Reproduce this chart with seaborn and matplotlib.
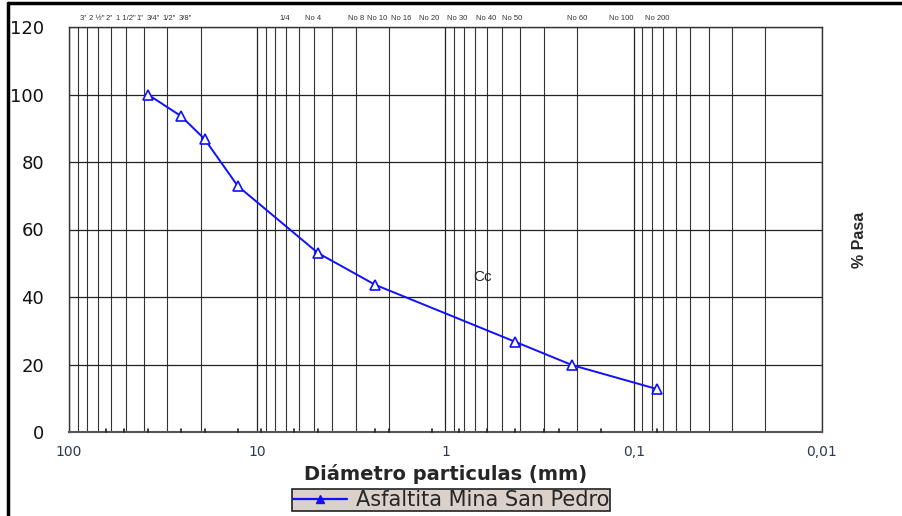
import matplotlib
matplotlib.use("Agg")
import matplotlib.pyplot as plt
import matplotlib.ticker as mticker
from matplotlib.lines import Line2D
import seaborn as sns
import pandas as pd

# ---- data ----
diam_mm = [38.1, 25.4, 19.05, 12.7, 4.75, 2.36, 0.425, 0.212, 0.075]
pct_pasa = [100, 93.6, 86.8, 72.9, 53.0, 43.6, 26.7, 19.8, 12.7]
series_name = "Asfaltita Mina San Pedro"

sieve_labels = ['3"', '2 ½"', '2"', '1 1/2"', '1"', '3/4"', '1/2"', '3/8"', '1/4', 'No 4',
                'No 8', 'No 10', 'No 16', 'No 20', 'No 30', 'No 40', 'No 50', 'No 60',
                'No 100', 'No 200']
sieve_label_pos = [84.5, 71.5, 61.0, 50.0, 42.0, 35.5, 29.3, 24.0, 7.15, 5.08,
                   3.00, 2.32, 1.71, 1.22, 0.863, 0.606, 0.441, 0.200, 0.116, 0.075]
sieve_sizes = [63.5, 50.8, 38.1, 25.4, 19.05, 12.7, 9.525, 6.35, 4.75, 2.36, 2.0,
               1.18, 0.85, 0.6, 0.425, 0.3, 0.25, 0.15, 0.075]

x_major = [100, 10, 1, 0.1, 0.01]
x_major_labels = ["100", "10", "1", "0,1", "0,01"]
y_ticks = [0, 20, 40, 60, 80, 100, 120]

df = pd.DataFrame({"d": diam_mm, "p": pct_pasa})

sns.set_style("white")
plt.rcParams["font.family"] = ["DejaVu Sans"]

fig = plt.figure(figsize=(9.03, 5.16), dpi=100)
ax = fig.add_axes([69 / 903, 1 - 432 / 516, (822 - 69) / 903, (432 - 27) / 516])

blue = "#1010ff"
sns.lineplot(data=df, x="d", y="p", ax=ax, color=blue, lw=1.4, marker="^",
             markersize=7, markerfacecolor="white", markeredgecolor=blue,
             markeredgewidth=1.2, sort=False, legend=False, zorder=5)

ax.set_xscale("log")
ax.set_xlim(100, 0.01)
ax.set_ylim(0, 120)

ax.xaxis.set_major_locator(mticker.FixedLocator(x_major))
ax.xaxis.set_major_formatter(mticker.FixedFormatter(x_major_labels))
ax.xaxis.set_minor_locator(mticker.LogLocator(base=10, subs=range(2, 10), numticks=20))
ax.xaxis.set_minor_formatter(mticker.NullFormatter())
ax.set_yticks(y_ticks)

ax.grid(True, which="major", axis="both", color="#222222", lw=0.9)
ax.grid(True, which="minor", axis="x", color="#333333", lw=0.8)
ax.set_axisbelow(True)

ax.tick_params(axis="x", which="both", length=0, pad=9, labelsize=10, colors="#222222")
ax.tick_params(axis="y", length=0, pad=18, labelsize=13, colors="#111111")
for lab in ax.get_xticklabels():
    lab.set_color("#2a3a55")

for s in ax.spines.values():
    s.set_color("#333333")
    s.set_linewidth(1.0)
    s.set_visible(True)
ax.spines["bottom"].set_color("#555555")
ax.spines["bottom"].set_linewidth(1.5)

# small sieve ticks at bottom
for s in sieve_sizes:
    ax.plot([s, s], [0, 1.0], color="#222222", lw=1.2, clip_on=False, zorder=3)

# sieve labels on top
trans = matplotlib.transforms.blended_transform_factory(ax.transData, ax.transAxes)
for lab, pos in zip(sieve_labels, sieve_label_pos):
    ax.text(pos, 1.012, lab, transform=trans, ha="center", va="bottom",
            fontsize=5.5, color="#333333", family="Liberation Sans")

ax.text(0.637, 45.9, "Cc", fontsize=11, ha="center", va="center", color="#222222",
        family="Liberation Sans")

ax.set_xlabel("Diámetro particulas (mm)", fontsize=14, fontweight="bold", labelpad=4)
ax.set_ylabel("")
fig.text(860 / 903, 1 - 240 / 516, "% Pasa", rotation=90, fontsize=11.5,
         fontweight="bold", ha="center", va="center", family="Liberation Sans")

handle = Line2D([], [], color=blue, lw=1.6, marker="^", markersize=6,
                markerfacecolor=blue, markeredgecolor=blue)
leg = fig.legend([handle], [series_name], loc="center",
                 bbox_to_anchor=(451 / 903, 1 - 500 / 516), fontsize=15,
                 frameon=True, fancybox=False, handlelength=2.6, borderpad=0.05,
                 handletextpad=0.4, borderaxespad=0)
leg.get_frame().set_facecolor("#d9d1ca")
leg.get_frame().set_edgecolor("#222222")
leg.get_frame().set_linewidth(1.2)
leg.get_frame().set_alpha(1)

# outer figure border (top and left)
fig.add_artist(Line2D([8 / 903, 8 / 903], [0, 1 - 3 / 516], transform=fig.transFigure,
                      color="black", lw=2.5))
fig.add_artist(Line2D([8 / 903, 1], [1 - 3 / 516, 1 - 3 / 516], transform=fig.transFigure,
                      color="black", lw=2.5))

fig.savefig("out.png", dpi=100)
